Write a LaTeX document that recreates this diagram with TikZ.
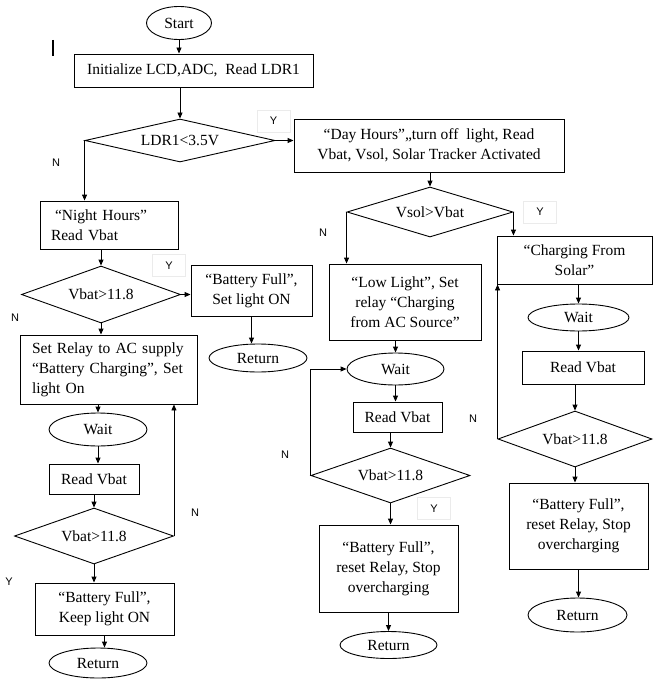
\documentclass[tikz,border=0pt]{standalone}
\usepackage{fontspec}
\setmainfont{Liberation Serif}
\newfontfamily\lblfont{Liberation Sans}
\usetikzlibrary{arrows.meta,shapes.geometric}
\tikzset{%
terminal/.style={draw,ellipse,inner sep=0pt},
process/.style={draw,rectangle,inner sep=0pt,align=center},
leftbox/.style={draw,rectangle,inner ysep=0pt,inner xsep=#1,align=left},
decision/.style={draw,diamond,shape aspect=4,inner sep=0pt},
branch/.style={font=\lblfont\fontsize{11}{12}\selectfont,inner sep=0pt},
branchbox/.style={branch,draw=black!8,line width=0.6pt,minimum width=33pt,minimum height=22pt},
dims/.style 2 args={minimum width=#1pt,minimum height=#2pt}
}

\begin{document}
\begin{tikzpicture}[x=1pt,y=-1pt,line width=0.9pt,>={Triangle[length=6pt,width=5pt]},
  font=\fontsize{15.5}{20}\selectfont]
\useasboundingbox (0,0) rectangle (653,679);

    \node[terminal,dims={65}{33}] (start) at (179,23) {Start};
    \node[process,dims={239}{33}] (init) at (193.5,70.5) {Initialize LCD,ADC,\ \ Read LDR1};
    \node[decision,dims={190}{43}] (ldr) at (180,140.5) {LDR1<3.5V};
    \node[process,dims={270}{53}] (day) at (429,145.5) {“Day Hours”,,turn off\ \ light, Read\\Vbat, Vsol, Solar Tracker Activated};

    \node[leftbox=11pt,text width=116pt,minimum height=48pt] (night) at (109,225) {\hspace{4pt}“Night Hours”\\Read Vbat};
    \node[decision,dims={159}{57}] (vbat1) at (101,294.5) {Vbat>11.8};
    \node[process,dims={121}{51}] (full1) at (251.5,290.5) {“Battery Full”,\\Set light ON};
    \node[terminal,dims={98}{28}] (ret1) at (258,358) {Return};
    \node[leftbox=12pt,text width=153pt,minimum height=69pt] (relay) at (108.5,369.5) {Set Relay to AC supply\\“Battery Charging”, Set\\light On};
    \node[terminal,dims={98}{33}] (wait1) at (98,429.5) {Wait};
    \node[process,dims={90}{30}] (read1) at (94,479) {Read Vbat};
    \node[decision,dims={159}{56}] (vbat2) at (94,536) {Vbat>11.8};
    \node[process,dims={139}{52}] (full2) at (104.5,609) {“Battery Full”,\\Keep light ON};
    \node[terminal,dims={98}{30}] (ret2) at (98,663) {Return};

    \node[decision,dims={166}{50}] (vsol) at (430,212) {Vsol>Vbat};
    \node[process,dims={152}{76}] (low) at (405,302) {“Low Light”, Set\\relay “Charging\\from AC Source”};
    \node[terminal,dims={97}{32}] (wait2) at (395.5,369) {Wait};
    \node[process,dims={89}{30}] (read2) at (397.5,417) {Read Vbat};
    \node[decision,dims={159}{55}] (vbat3) at (390.5,475.5) {Vbat>11.8};
    \node[process,dims={139}{87}] (full3) at (388.5,568.5) {“Battery Full”,\\reset Relay, Stop\\overcharging};
    \node[terminal,dims={97}{27}] (ret3) at (388.5,645) {Return};

    \node[process,dims={155}{48}] (solar) at (574.5,260) {“Charging From\\Solar”};
    \node[terminal,dims={101}{27}] (wait3) at (578.5,317.5) {Wait};
    \node[process,dims={122}{33}] (read3) at (583,367.5) {Read Vbat};
    \node[decision,dims={154}{56}] (vbat4) at (575,439) {Vbat>11.8};
    \node[process,dims={139}{86}] (full4) at (578.5,526) {“Battery Full”,\\reset Relay, Stop\\overcharging};
    \node[terminal,dims={99}{34}] (ret4) at (577.5,615) {Return};

    \node[branchbox] (yes1) at (273.5,121) {Y};
    \node[branch] (no1) at (56,163) {N};
    \node[branchbox] (yes2) at (169,265.5) {Y};
    \node[branch] (no2) at (15,318) {N};
    \node[branch] (no3) at (195,513) {N};
    \node[branch] (yes3) at (9,582) {Y};
    \node[branch] (no4) at (323,233) {N};
    \node[branchbox] (yes4) at (540,212) {Y};
    \node[branch] (no5) at (285,455) {N};
    \node[branchbox] (yes5) at (434,508.5) {Y};
    \node[branch] (no6) at (473,419) {N};

    \draw[line width=2.5pt] (53,40) -- (53,56);

    \path[->] (start.south) edge (start.south |- init.north)
              (ldr.north |- init.south) edge (ldr.north)
              (ldr.east) edge (ldr.east -| day.west)
              (ldr.west) edge (ldr.west |- night.north)
              (vbat1.north |- night.south) edge (vbat1.north)
              (vbat1.east) edge (vbat1.east -| full1.west)
              (full1.south) edge (full1.south |- ret1.north)
              (vbat1.south) edge (vbat1.south |- relay.north)
              (relay.south -| wait1) edge (wait1.north)
              (wait1.south) edge (wait1.south |- read1.north)
              (read1.south) edge (read1.south |- vbat2.north)
              (vbat2.east) edge (vbat2.east |- relay.south)
              (vbat2.south) edge (vbat2.south |- full2.north)
              (full2.south) edge (full2.south |- ret2.north);

    \path[->] (vsol.north |- day.south) edge (vsol.north)
              (vsol.west) edge (vsol.west |- low.north)
              (vsol.east) edge (vsol.east |- solar.north)
              (low.south -| wait2) edge (wait2.north)
              (wait2.south) edge (wait2.south |- read2.north)
              (vbat3.north |- read2.south) edge (vbat3.north)
              (vbat3.south) edge (vbat3.south |- full3.north)
              (full3.south) edge (full3.south |- ret3.north);
    \draw[->] (vbat3.west) |- (wait2.west);

    \path[->] (solar.south -| wait3) edge (wait3.north)
              (wait3.south) edge (wait3.south |- read3.north)
              (vbat4.north |- read3.south) edge (vbat4.north)
              (vbat4.west) edge (vbat4.west |- solar.south)
              (vbat4.south) edge (vbat4.south |- full4.north)
              (full4.south) edge (full4.south |- ret4.north);

  \end{tikzpicture}
\end{document}
